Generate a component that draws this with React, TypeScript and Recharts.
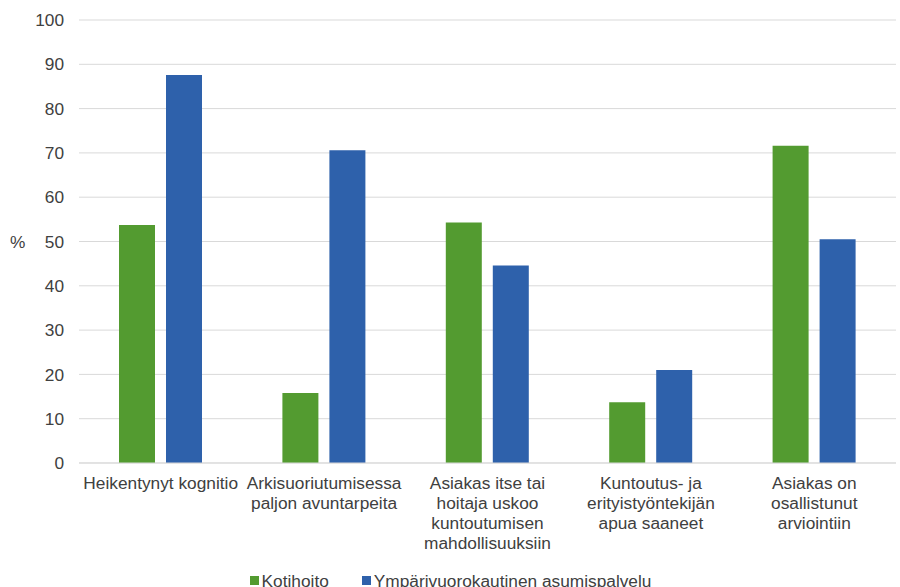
import { BarChart, Bar, XAxis, YAxis, CartesianGrid, Legend } from "recharts";

const categories = [
  ["Heikentynyt kognitio"],
  ["Arkisuoriutumisessa", "paljon avuntarpeita"],
  ["Asiakas itse tai", "hoitaja uskoo", "kuntoutumisen", "mahdollisuuksiin"],
  ["Kuntoutus- ja", "erityistyöntekijän", "apua saaneet"],
  ["Asiakas on", "osallistunut", "arviointiin"],
];
const kotihoito = [53.7, 15.8, 54.3, 13.7, 71.6];
const ymparivuorokautinen = [87.6, 70.6, 44.6, 21.0, 50.5];
const yTicks = [0, 10, 20, 30, 40, 50, 60, 70, 80, 90, 100];

const seriesNames = ["Kotihoito", "Ympärivuorokautinen asumispalvelu"];
const seriesColors = ["#539b30", "#2e61ab"];

const data = categories.map((lines, i) => ({
  name: lines.join(" "),
  kotihoito: kotihoito[i],
  ymparivuorokautinen: ymparivuorokautinen[i],
}));

const FONT = "'Liberation Sans', Arial, sans-serif";
const TEXT = "#404040";
const FS = 17.3;

function CategoryTick({ x, y, index }: any) {
  const lines = categories[index] ?? [];
  return (
    <text x={x} y={y} textAnchor="middle" fill={TEXT} fontSize={FS} fontFamily={FONT}>
      {lines.map((line, i) => (
        <tspan key={i} x={x} dy={i === 0 ? 26 : 20}>
          {line}
        </tspan>
      ))}
    </text>
  );
}

function LegendRow() {
  return (
    <div
      style={{
        height: 24,
        paddingTop: 11,
        boxSizing: "border-box",
        display: "flex",
        justifyContent: "center",
        gap: 33,
        fontFamily: FONT,
        fontSize: FS,
        lineHeight: "18px",
        color: TEXT,
        whiteSpace: "nowrap",
        paddingLeft: 5,
      }}
    >
      {seriesNames.map((n, i) => (
        <span key={n} style={{ display: "flex", alignItems: "center" }}>
          <span
            style={{
              width: 9,
              height: 9,
              background: seriesColors[i],
              marginRight: 3,
              display: "inline-block",
            }}
          />
          {n}
        </span>
      ))}
    </div>
  );
}

export default function App() {
  return (
    <div style={{ position: "absolute", left: 0, top: 0, width: 900, height: 587, overflow: "hidden", background: "#fff" }}>
      <BarChart
        width={900}
        height={587}
        data={data}
        margin={{ top: 20, right: 4, bottom: 0, left: 0 }}
        barCategoryGap={40}
        barGap={11}
      >
        <CartesianGrid vertical={false} stroke="#d9d9d9" />
        <XAxis
          dataKey="name"
          height={100}
          interval={0}
          tickSize={0}
          tickMargin={0}
          tickLine={false}
          axisLine={{ stroke: "#d9d9d9" }}
          tick={<CategoryTick />}
        />
        <YAxis
          width={79}
          domain={[0, 100]}
          ticks={yTicks}
          interval={0}
          tickSize={0}
          tickMargin={15}
          tickLine={false}
          axisLine={false}
          tick={{ fill: TEXT, fontSize: FS, fontFamily: FONT }}
          label={{ value: "%", position: "insideLeft", offset: 10, fill: TEXT, fontSize: FS, fontFamily: FONT }}
        />
        <Legend verticalAlign="bottom" content={<LegendRow />} />
        <Bar dataKey="kotihoito" name={seriesNames[0]} fill={seriesColors[0]} barSize={36} isAnimationActive={false} />
        <Bar dataKey="ymparivuorokautinen" name={seriesNames[1]} fill={seriesColors[1]} barSize={36} isAnimationActive={false} />
      </BarChart>
    </div>
  );
}
